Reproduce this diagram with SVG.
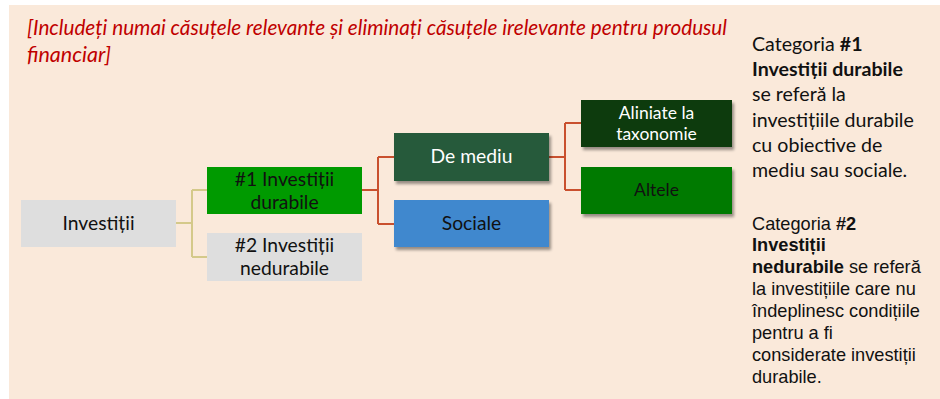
<svg xmlns="http://www.w3.org/2000/svg" width="940" height="399" viewBox="0 0 940 399">
<style>
.bg{fill:#FAE9DA}
.nt{font-family:Lato,"Open Sans","Liberation Sans",sans-serif;font-size:19.3px;text-anchor:middle;fill:#111}
.nw{font-family:Lato,"Open Sans","Liberation Sans",sans-serif;font-size:19.3px;text-anchor:middle;fill:#fff}
.ns{font-family:Lato,"Open Sans","Liberation Sans",sans-serif;font-size:17.5px;text-anchor:middle;fill:#fff}
.nd{font-family:Lato,"Open Sans","Liberation Sans",sans-serif;font-size:17.5px;text-anchor:middle;fill:#111}
.ti{font-family:Lato,"Open Sans","Liberation Sans",sans-serif;font-size:21.5px;font-style:italic;fill:#C00000}
.p1{font-family:Lato,"Open Sans","Liberation Sans",sans-serif;font-size:19.6px;fill:#111}
.p2{font-family:"Liberation Sans",Arial,sans-serif;font-size:18.2px;fill:#111}
.cy{fill:none;stroke:#D4C98A;stroke-width:2}
.cr{fill:none;stroke:#C9502E;stroke-width:2}
</style>
<defs>
<filter id="sh" x="-10%" y="-10%" width="130%" height="140%">
<feGaussianBlur in="SourceAlpha" stdDeviation="1.5"/>
<feOffset dx="2" dy="3" result="b"/>
<feComponentTransfer><feFuncA type="linear" slope="0.4"/></feComponentTransfer>
<feMerge><feMergeNode/><feMergeNode in="SourceGraphic"/></feMerge>
</filter>
</defs>
<rect x="0" y="0" width="940" height="399" fill="#fff"/>
<rect class="bg" x="9" y="5" width="931" height="394"/>
<text class="ti" x="27" y="35" textLength="700" lengthAdjust="spacingAndGlyphs">[Includeți numai căsuțele relevante și eliminați căsuțele irelevante pentru produsul</text>
<text class="ti" x="27" y="62">financiar]</text>
<g id="connectors">
<path class="cy" d="M176,223 H192 M192,190 V257 M192,190 H208 M192,257 H208"/>
<path class="cr" d="M362,190 H378 M378,157 V224 M378,157 H394 M378,224 H394"/>
<path class="cr" d="M549,157 H565 M565,123 V190 M565,123 H581 M565,190 H581"/>
</g>
<g id="investitii">
<rect x="21" y="200" width="155" height="47" fill="#DEDEDE"/>
<text class="nt" x="98.5" y="230">Investiții</text>
</g>
<g id="durabile">
<rect x="207" y="167" width="155" height="47" fill="#009A00"/>
<text class="nt" x="284.5" y="186">#1 Investiții</text>
<text class="nt" x="284.5" y="209">durabile</text>
</g>
<g id="nedurabile">
<rect x="207" y="233" width="155" height="48" fill="#DEDEDE"/>
<text class="nt" x="284.5" y="252">#2 Investiții</text>
<text class="nt" x="284.5" y="275">nedurabile</text>
</g>
<g id="demediu">
<rect x="394" y="133" width="155" height="48" fill="#285A3B" filter="url(#sh)"/>
<text class="nw" x="471.5" y="163">De mediu</text>
</g>
<g id="sociale">
<rect x="394" y="200" width="155" height="47" fill="#3F88CE" filter="url(#sh)"/>
<text class="nt" x="471.5" y="230">Sociale</text>
</g>
<g id="aliniate">
<rect x="581" y="100" width="151" height="47" fill="#0B3A0B" filter="url(#sh)"/>
<text class="ns" x="656.5" y="119">Aliniate la</text>
<text class="ns" x="656.5" y="140">taxonomie</text>
</g>
<g id="altele">
<rect x="581" y="167" width="151" height="47" fill="#027A02" filter="url(#sh)"/>
<text class="nd" x="656.5" y="196">Altele</text>
</g>
<g id="legend1">
<text class="p1" x="752" y="51">Categoria <tspan font-weight="bold">#1</tspan></text>
<text class="p1" x="752" y="76" font-weight="bold">Investiții durabile</text>
<text class="p1" x="752" y="101">se referă la</text>
<text class="p1" x="752" y="127">investițiile durabile</text>
<text class="p1" x="752" y="152">cu obiective de</text>
<text class="p1" x="752" y="177">mediu sau sociale.</text>
</g>
<g id="legend2">
<text class="p2" x="752" y="230">Categoria <tspan font-weight="bold">#2</tspan></text>
<text class="p2" x="752" y="251" font-weight="bold">Investiții</text>
<text class="p2" x="752" y="273"><tspan font-weight="bold">nedurabile</tspan> se referă</text>
<text class="p2" x="752" y="295">la investițiile care nu</text>
<text class="p2" x="752" y="317">îndeplinesc condițiile</text>
<text class="p2" x="752" y="339">pentru a fi</text>
<text class="p2" x="752" y="361">considerate investiții</text>
<text class="p2" x="752" y="383">durabile.</text>
</g>
</svg>
